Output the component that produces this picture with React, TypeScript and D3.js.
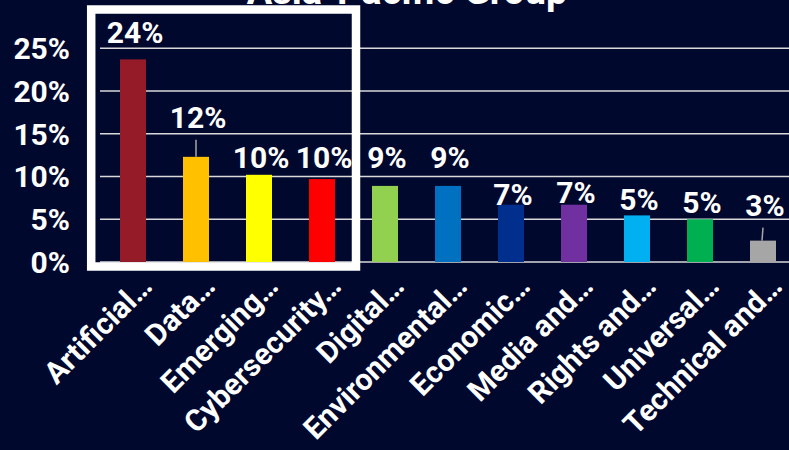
import React from "react";
import * as d3 from "d3";

const categories = [
  "Artificial…",
  "Data…",
  "Emerging…",
  "Cybersecurity…",
  "Digital…",
  "Environmental…",
  "Economic…",
  "Media and…",
  "Rights and…",
  "Universal…",
  "Technical and…",
];
const values = [23.7, 12.3, 10.2, 9.7, 8.9, 8.9, 6.7, 6.7, 5.45, 5.0, 2.5];
const colors = [
  "#951B28", "#FFC000", "#FFFF00", "#FF0000", "#92D050", "#0070C0",
  "#002F8E", "#7030A0", "#00B0F0", "#00B050", "#A6A6A6",
];
const yTicks = [0, 5, 10, 15, 20, 25];
const title = "Asia-Pacific Group";

// label placement (px lift of label baseline above bar top), leader lines
const labelLift = [16, 29, 7, 11, 18, 18, 0, 2, 5, 6, 25];
const leader = [false, true, false, false, false, false, false, false, false, false, true];

const W = 789;
const H = 450;
const BG = "#00082D";
const FONT = "Roboto, 'Noto Sans', sans-serif";

export default function App() {
  const x = d3
    .scaleBand<string>()
    .domain(categories)
    .range([101.5, 794.5])
    .paddingInner(37 / 63)
    .paddingOuter(37 / 126);
  const y = d3.scaleLinear().domain([0, 25]).range([262, 48.25]);
  const bw = x.bandwidth();

  return (
    <svg
      width={W}
      height={H}
      style={{ position: "absolute", left: 0, top: 0, display: "block" }}
      fontFamily={FONT}
    >
      <rect x={0} y={0} width={W} height={H} fill={BG} />
      <text
        x={407}
        y={4}
        fill="#fff"
        fontSize={38}
        fontWeight={700}
        textAnchor="middle"
      >
        {title}
      </text>
      {yTicks.map((t) => (
        <g key={t}>
          <line x1={100} x2={W} y1={y(t)} y2={y(t)} stroke="#D9D9D9" strokeWidth={1.5} />
          <text
            x={70}
            y={y(t)}
            dy="0.36em"
            fill="#fff"
            fontSize={30}
            fontWeight={700}
            textAnchor="end"
          >
            {t}%
          </text>
        </g>
      ))}
      {categories.map((c, i) => {
        const x0 = x(c)!;
        const cx = x0 + bw / 2;
        const top = y(values[i]);
        const lb = top - labelLift[i];
        return (
          <g key={c}>
            <rect x={x0} y={top} width={bw} height={y(0) - top} fill={colors[i]} />
            {leader[i] && (
              <line
                x1={cx}
                x2={cx + (i === 10 ? -1 : 0)}
                y1={lb + 12}
                y2={top}
                stroke="#A6A6A6"
                strokeWidth={1.5}
              />
            )}
            <text
              x={cx + 2}
              y={lb}
              fill="#fff"
              fontSize={30}
              fontWeight={700}
              textAnchor="middle"
            >
              {Math.round(values[i])}%
            </text>
            <text
              transform={`translate(${cx + 21},${288}) rotate(-45)`}
              fill="#fff"
              fontSize={30}
              fontWeight={700}
              textAnchor="end"
            >
              {c}
            </text>
          </g>
        );
      })}
      <rect
        x={91.2}
        y={9.5}
        width={264.8}
        height={257}
        fill="none"
        stroke="#fff"
        strokeWidth={8.5}
      />
    </svg>
  );
}
